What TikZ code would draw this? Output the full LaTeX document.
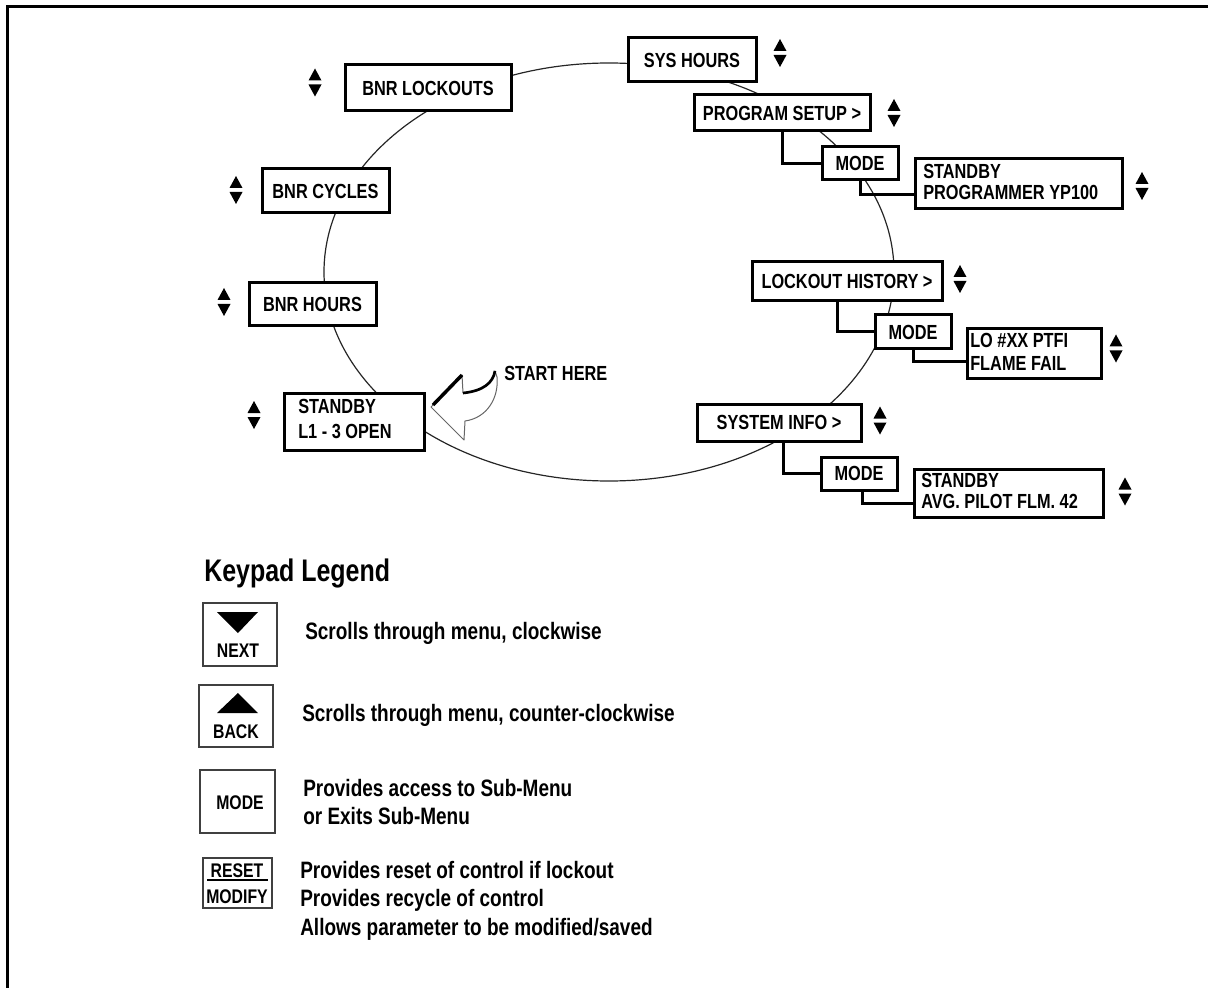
\documentclass[tikz,border=0pt]{standalone}
\usepackage{fontspec}
\setmainfont{Liberation Sans}[FakeStretch=0.8]
\newcommand\lblfont{\bfseries\fontsize{15.3}{15.75}\selectfont}
\newcommand\keyfont{\bfseries\fontsize{14.8}{15}\selectfont}
\newcommand\descfont{\bfseries\fontsize{17.8}{20}\selectfont}
\newcommand\titlefont{\bfseries\fontsize{23.4}{26}\selectfont}
\begin{document}
\begin{tikzpicture}[x=0.75pt,y=-0.75pt,
  box/.style={draw, line width=2.25pt, fill=white, inner sep=0pt, font=\lblfont},
  twoline/.style={anchor=west, align=left, inner sep=0pt, font=\lblfont},
  conn/.style={line width=2.25pt},
  ring/.style={line width=0.9pt, black!85},
  keybox/.style={draw=black!75, line width=1pt, inner sep=0pt},
  keylbl/.style={inner sep=0pt, font=\keyfont},
  desc/.style={anchor=base west, inner sep=0pt, font=\descfont},
  updn/.pic={\fill (-6.5,-2) -- (6.5,-2) -- (0,-14) -- cycle;
             \fill (-6.5,2) -- (6.5,2) -- (0,14) -- cycle;}
]
\useasboundingbox (0,0) rectangle (1208,988);
% frame
\draw[line width=2.25pt] (7,988) -- (7,7) -- (1208,7);
% menu ring
\draw[ring] (609,272) ellipse [x radius=285, y radius=209];

% main menu boxes
\node[box, minimum width=96pt, minimum height=33pt] (sys) at (692,60) {SYS HOURS};
\node[box, minimum width=132pt, minimum height=27pt] (prog) at (782,113) {PROGRAM SETUP >};
\node[box, minimum width=57pt, minimum height=24.75pt] (mode1) at (860,163.5) {MODE};
\node[box, minimum width=155.25pt, minimum height=37.5pt] (sb1) at (1018.5,184) {};
\node[twoline] (sb1t) at (923,182) {STANDBY\\PROGRAMMER YP100};

\node[box, minimum width=142.5pt, minimum height=29.25pt] (lock) at (847,281.5) {LOCKOUT HISTORY >};
\node[box, minimum width=57pt, minimum height=25.5pt] (mode2) at (913,332) {MODE};
\node[box, minimum width=100.5pt, minimum height=36.75pt] (lo) at (1034,353.5) {};
\node[twoline, font=\bfseries\fontsize{15.3}{17.25}\selectfont] (lot) at (970,351.5) {LO \#XX PTFI\\FLAME FAIL};

\node[box, minimum width=123pt, minimum height=27.75pt] (sysinfo) at (779,422.5) {SYSTEM INFO >};
\node[box, minimum width=57pt, minimum height=24.75pt] (mode3) at (859,473.5) {MODE};
\node[box, minimum width=141.75pt, minimum height=36pt] (sb3) at (1008.5,493) {};
\node[twoline] (sb3t) at (921,491) {STANDBY\\AVG. PILOT FLM. 42};

\node[box, minimum width=124.5pt, minimum height=34.5pt] (bnrl) at (428,88) {BNR LOCKOUTS};
\node[box, minimum width=95.25pt, minimum height=33pt] (bnrc) at (325.5,191) {BNR CYCLES};
\node[box, minimum width=95.25pt, minimum height=32.25pt] (bnrh) at (312.5,304.5) {BNR HOURS};
\node[box, minimum width=105pt, minimum height=42.75pt] (sb0) at (354,421.5) {};
\node[twoline, font=\bfseries\fontsize{15.3}{18.75}\selectfont] (sb0t) at (298,419) {STANDBY\\L1 - 3 OPEN};

% sub-menu connectors
\draw[conn] (prog.south) |- (mode1.west);
\draw[conn] (mode1.south) |- (sb1.west |- 0,195);
\draw[conn] (lock.south -| 837,0) |- (mode2.west);
\draw[conn] (mode2.south) |- (lo.west |- 0,361);
\draw[conn] (sysinfo.south -| 783,0) |- (mode3.west);
\draw[conn] (mode3.south -| 862,0) |- (sb3.west |- 0,503);

% up/down arrows
\pic at (780,53) {updn};
\pic at (894,113) {updn};
\pic at (1142,186) {updn};
\pic at (960,279) {updn};
\pic at (1116,348.5) {updn};
\pic at (880,420.5) {updn};
\pic at (1125,491.5) {updn};
\pic at (315,82.5) {updn};
\pic at (236,190) {updn};
\pic at (224,302) {updn};
\pic at (254,415) {updn};

% start here arrow
\draw[black!60, line width=0.75pt, line join=round]
  (431,407) -- (462,375) -- (463,393)
  .. controls (483,391) and (493,383) .. (495,371) -- (497,377)
  .. controls (499,398) and (487,418) .. (465,421) -- (464,440) -- cycle;
\draw[line width=2.6pt] (433,405) -- (462,375);
\draw[line width=2pt] (463,393) .. controls (483,391) and (493,383) .. (495,371);
\node[anchor=west, inner sep=0pt, font=\lblfont] (start) at (504,373) {START HERE};

% legend
\node[anchor=base west, inner sep=0pt, font=\titlefont] (title) at (204,581) {Keypad Legend};

\node[keybox, minimum width=55.5pt, minimum height=47.25pt] (kn) at (240,634.5) {};
\fill (217,612) -- (258,612) -- (238,633) -- cycle;
\node[keylbl] (knt) at (238,651) {NEXT};

\node[keybox, minimum width=55.5pt, minimum height=46.5pt] (kb) at (236,716) {};
\fill (238,693) -- (217,713) -- (258,713) -- cycle;
\node[keylbl] (kbt) at (236,732) {BACK};

\node[keybox, minimum width=56.25pt, minimum height=47.25pt] (km) at (237.5,801.5) {};
\node[keylbl] (kmt) at (240,803) {MODE};

\node[keybox, minimum width=51.75pt, minimum height=37.5pt] (kr) at (237.5,883) {};
\node[keylbl] (krt) at (237,871) {RESET};
\draw[line width=1.6pt] (207,880) -- (268,880);
\node[keylbl] (krm) at (237,897) {MODIFY};

\node[desc] (d1) at (305,639) {Scrolls through menu, clockwise};
\node[desc] (d2) at (302,721) {Scrolls through menu, counter-clockwise};
\node[desc] (d3) at (303,796) {Provides access to Sub-Menu};
\node[desc] (d4) at (303,824) {or Exits Sub-Menu};
\node[desc] (d5) at (300,878) {Provides reset of control if lockout};
\node[desc] (d6) at (300,906) {Provides recycle of control};
\node[desc] (d7) at (300,935) {Allows parameter to be modified/saved};
\end{tikzpicture}
\end{document}
